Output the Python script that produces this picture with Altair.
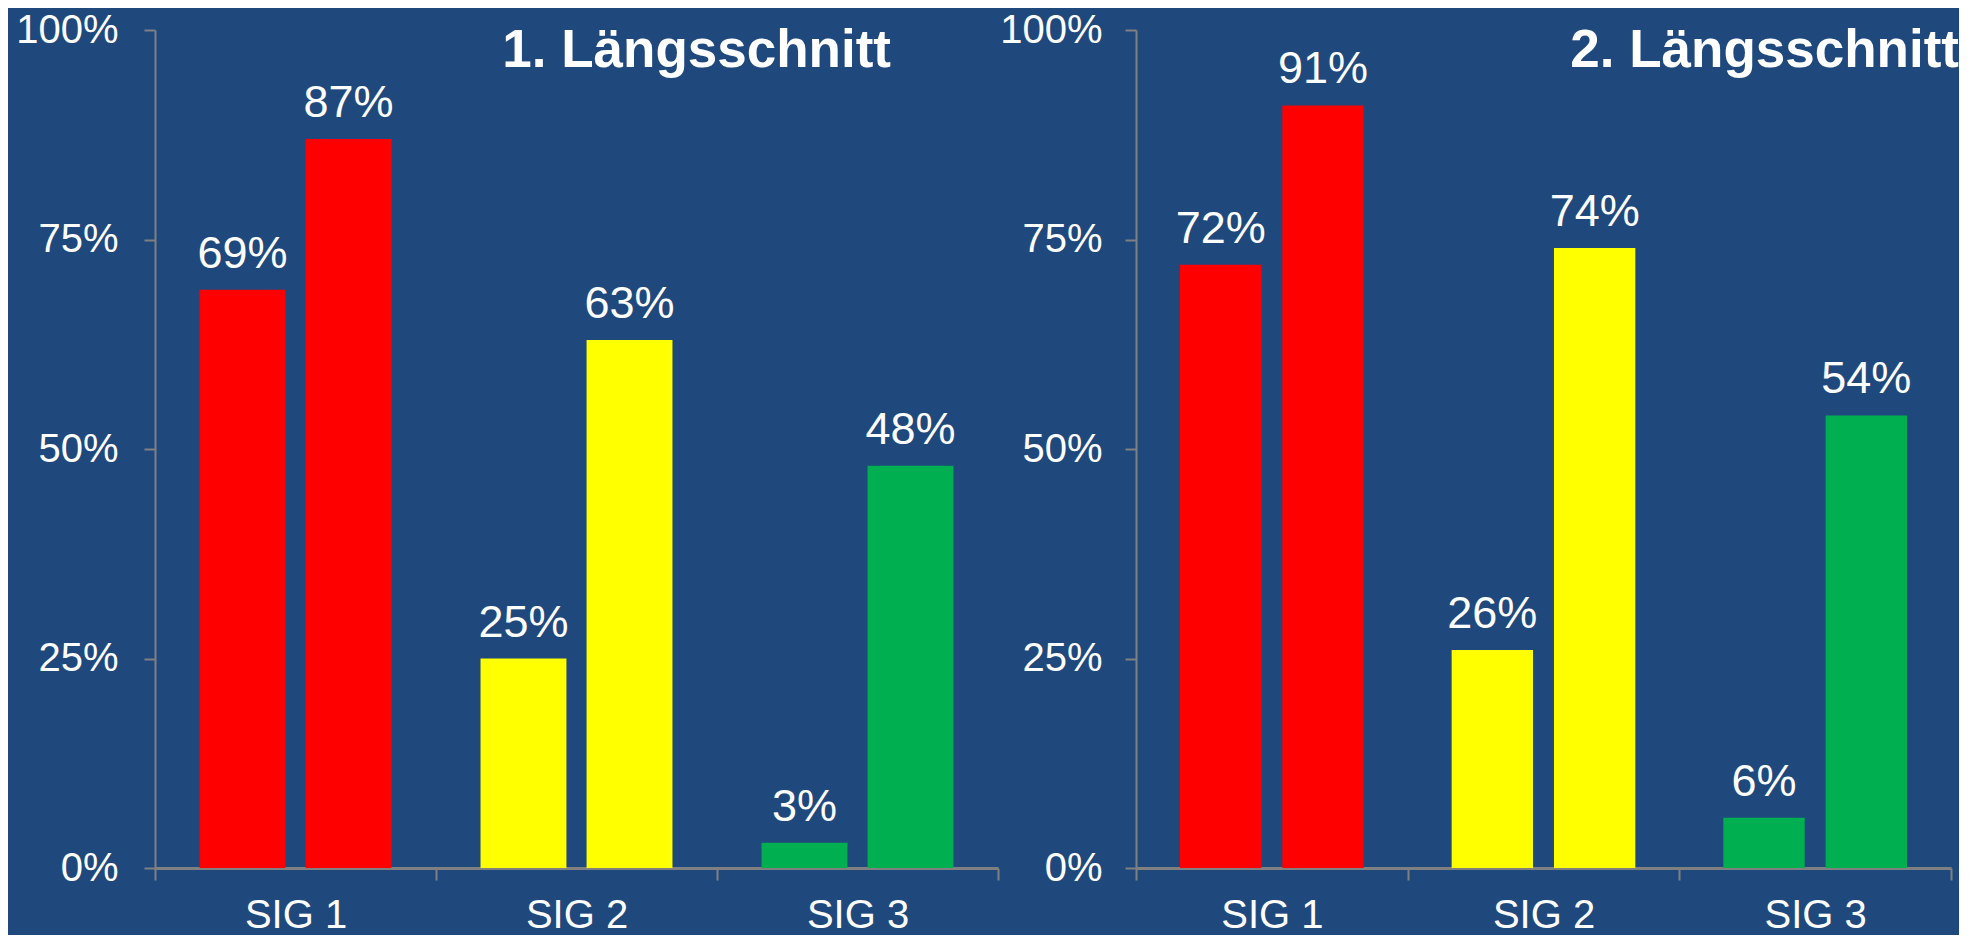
import altair as alt
import pandas as pd

categories = ["SIG 1", "SIG 2", "SIG 3"]
series = ["A", "B"]
titles = ["1. Längsschnitt", "2. Längsschnitt"]
p1_a = [69, 25, 3]
p1_b = [87, 63, 48]
p2_a = [72, 26, 6]
p2_b = [91, 74, 54]
y_ticks = [0, 25, 50, 75, 100]
bar_colors = ["#FF0000", "#FFFF00", "#00B050"]

FONT = "Liberation Sans"
BG = "#1F497D"
GRAY = "#808080"


def panel(a, b, title, width, pi, po, title_x, ylabpad):
    rows = []
    for c, va, vb in zip(categories, a, b):
        rows.append({"cat": c, "s": "A", "v": va, "label": f"{va}%"})
        rows.append({"cat": c, "s": "B", "v": vb, "label": f"{vb}%"})
    df = pd.DataFrame(rows)
    base = alt.Chart(df).encode(
        x=alt.X(
            "cat:N",
            sort=categories,
            scale=alt.Scale(paddingInner=0, paddingOuter=0),
            axis=alt.Axis(
                title=None,
                labelAngle=0,
                labelFontSize=40,
                labelColor="white",
                labelFont=FONT,
                labelPadding=15,
                domainColor=GRAY,
                domainWidth=3,
                tickColor=GRAY,
                tickWidth=2,
                tickSize=12,
                tickBand="extent",
                grid=False,
            ),
        ),
        xOffset=alt.XOffset(
            "s:N", sort=series, scale=alt.Scale(paddingInner=pi, paddingOuter=po)
        ),
        y=alt.Y(
            "v:Q",
            scale=alt.Scale(domain=[0, 100], nice=False),
            axis=alt.Axis(
                title=None,
                values=y_ticks,
                labelExpr="datum.value + '%'",
                labelFontSize=40,
                labelColor="white",
                labelFont=FONT,
                labelPadding=ylabpad,
                domainColor=GRAY,
                domainWidth=2,
                tickColor=GRAY,
                tickWidth=2,
                tickSize=11,
                grid=False,
            ),
        ),
    )
    bars = base.mark_bar().encode(
        color=alt.Color(
            "cat:N", scale=alt.Scale(domain=categories, range=bar_colors), legend=None
        )
    )
    text = base.mark_text(
        baseline="alphabetic", dy=-22, fontSize=45, color="white", font=FONT
    ).encode(text="label:N")
    ttl = (
        alt.Chart(pd.DataFrame({"t": [title]}))
        .mark_text(
            align="right",
            baseline="alphabetic",
            fontSize=53,
            fontWeight="bold",
            color="white",
            font=FONT,
        )
        .encode(x=alt.value(title_x), y=alt.value(37), text="t:N")
    )
    return alt.layer(bars, text, ttl).properties(width=width, height=838)


left = panel(p1_a, p1_b, titles[0], 843, 0.19, 0.42, 736, 26)
right = panel(p2_a, p2_b, titles[1], 815, 0.205, 0.43, 823, 23)

chart = (
    alt.hconcat(left, right, spacing=0)
    .resolve_scale(x="independent", y="independent", xOffset="independent")
    .properties(padding={"left": 7, "top": 2, "right": 0, "bottom": 0})
    .configure(background=BG)
    .configure_view(strokeWidth=0)
)

chart.save("out.html", embed_options={"renderer": "svg", "actions": False})
